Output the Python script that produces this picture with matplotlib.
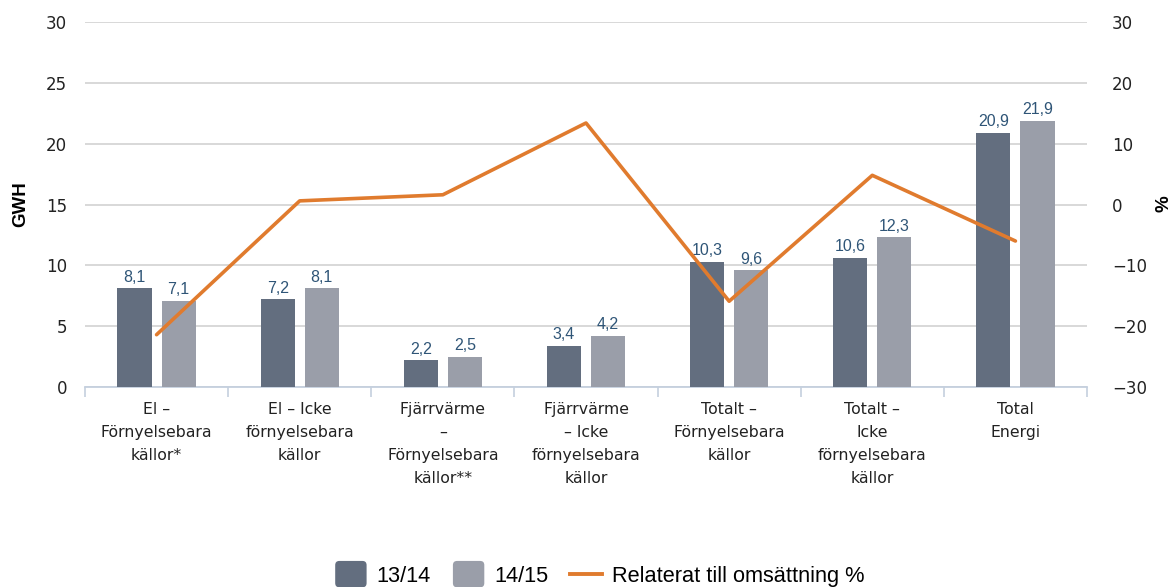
import matplotlib

matplotlib.use("Agg")
import matplotlib.pyplot as plt
import numpy as np
from matplotlib.patches import FancyBboxPatch, Patch
from matplotlib.lines import Line2D
from matplotlib.legend_handler import HandlerPatch

plt.rcParams["font.family"] = ["DejaVu Sans"]

categories = [
    "El –\nFörnyelsebara\nkällor*",
    "El – Icke\nförnyelsebara\nkällor",
    "Fjärrvärme\n–\nFörnyelsebara\nkällor**",
    "Fjärrvärme\n– Icke\nförnyelsebara\nkällor",
    "Totalt –\nFörnyelsebara\nkällor",
    "Totalt –\nIcke\nförnyelsebara\nkällor",
    "Total\nEnergi",
]
gwh_1314 = [8.1, 7.2, 2.2, 3.4, 10.3, 10.6, 20.9]
gwh_1415 = [7.1, 8.1, 2.5, 4.2, 9.6, 12.3, 21.9]
pct_turnover = [-21.4, 0.6, 1.6, 13.4, -15.9, 4.8, -6.0]
left_ticks = [0, 5, 10, 15, 20, 25, 30]
right_ticks = [-30, -20, -10, 0, 10, 20, 30]

c_dark = "#636e7f"
c_light = "#9a9ea9"
c_line = "#e07b2e"
c_label = "#2f5577"
c_axis = "#c5d0de"
c_grid = "#d5d5d5"


class RoundedHandler(HandlerPatch):
    def create_artists(self, legend, orig_handle, xdescent, ydescent, width, height, fontsize, trans):
        p = FancyBboxPatch((-xdescent, -ydescent - 4), width, height + 8,
                           boxstyle="round,pad=0,rounding_size=3",
                           facecolor=orig_handle.get_facecolor(), edgecolor="none",
                           transform=trans)
        return [p]


fig = plt.figure(figsize=(11.74, 5.87), dpi=100)
ax = fig.add_axes([0.0724, 0.3407, 0.8535, 0.6218])
ax2 = ax.twinx()

x = np.arange(len(categories))
w = 0.238
off = 0.154
b1 = ax.bar(x - off, gwh_1314, w, color=c_dark, zorder=3)
b2 = ax.bar(x + off, gwh_1415, w, color=c_light, zorder=3)
for bars, vals in ((b1, gwh_1314), (b2, gwh_1415)):
    for r, v in zip(bars, vals):
        ax.text(r.get_x() + r.get_width() / 2, v + 0.3, f"{v:.1f}".replace(".", ","),
                ha="center", va="bottom", fontsize=11.5, color=c_label,
                family="Liberation Sans", zorder=4)

ax.set_xlim(-0.5, len(categories) - 0.5)
ax.set_ylim(0, 30)
ax.set_yticks(left_ticks)
ax.grid(axis="y", color=c_grid, lw=1.3, zorder=0)
ax.set_axisbelow(True)
ax.set_xticks(np.arange(-0.5, len(categories), 1.0))
ax.set_xticklabels([])
ax.set_xticks(x, minor=True)
ax.set_xticklabels(categories, minor=True, fontsize=11.3,
                   color="#222222", linespacing=1.65)
ax.tick_params(axis="x", which="major", length=7, color=c_axis, width=1.2)
ax.tick_params(axis="x", which="minor", length=0, pad=11)
ax.tick_params(axis="y", length=0, pad=13, labelsize=12, labelcolor="#222222")
for s in ("top", "right", "left"):
    ax.spines[s].set_visible(False)
ax.spines["bottom"].set_color(c_axis)
ax.spines["bottom"].set_linewidth(1.3)

ax2.plot(x, pct_turnover, color=c_line, lw=2.6, solid_capstyle="round", zorder=5)
ax2.set_ylim(-30, 30)
ax2.set_yticks(right_ticks)
ax2.set_yticklabels([str(t).replace("-", "\u2212") for t in right_ticks])
ax2.tick_params(axis="y", length=0, pad=18, labelsize=12, labelcolor="#222222")
for s in ax2.spines.values():
    s.set_visible(False)

fig.text(21 / 1174, 1 - 204 / 587, "GWH", rotation=90, ha="center", va="center",
         fontsize=13.5, fontweight="bold", family="Liberation Sans")
fig.text(1164 / 1174, 1 - 204 / 587, "%", rotation=90, ha="center", va="center",
         fontsize=13.5, fontweight="bold", family="Liberation Sans")

handles = [Patch(facecolor=c_dark), Patch(facecolor=c_light),
           Line2D([0], [0], color=c_line, lw=2.8)]
fig.legend(handles, ["13/14", "14/15", "Relaterat till omsättning %"],
           loc="lower center", bbox_to_anchor=(0.511, -0.033), ncol=3, frameon=False,
           prop={"family": "Liberation Sans", "size": 15.7},
           handlelength=1.44, handletextpad=0.47, columnspacing=1.0,
           handler_map={Patch: RoundedHandler()})

fig.savefig("out.png", dpi=100)
